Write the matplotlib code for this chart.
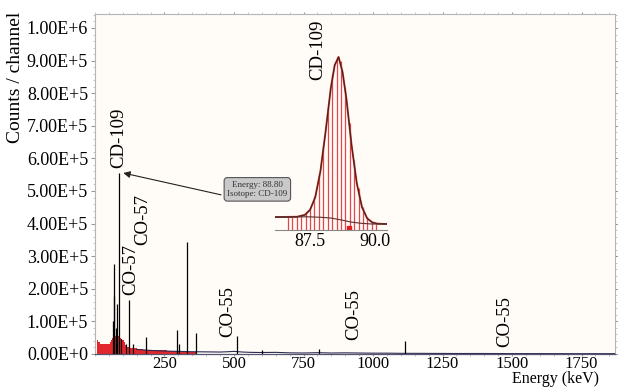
import matplotlib.pyplot as plt
from matplotlib.ticker import FixedLocator, MultipleLocator


# main spectrum: low-energy continuum (red fill)
cont_energy = [5, 9, 15, 20, 30, 40, 50, 55, 60, 65, 70, 75, 80, 85, 90, 95,
               100, 106, 112, 118, 130, 145, 160, 183, 210, 240, 279, 310,
               340, 385]
cont_counts = [0, 42000, 38000, 31000, 30000, 32000, 31000, 37000, 42000,
               50000, 58000, 54000, 60000, 56000, 50000, 46000, 42000,
               37000, 29000, 20000, 18000, 19000, 16000, 13000, 12500,
               11500, 8500, 9000, 7500, 0]

# dark baseline above the continuum
base_energy = [150, 200, 250, 300, 350, 400, 450, 480, 500, 530, 560, 600,
               650, 700, 750, 800, 850, 900, 950, 1000, 1050, 1100, 1150,
               1200, 1300, 1400, 1500, 1600, 1700, 1800, 1870]
base_counts = [14000, 11000, 9000, 8000, 7000, 6500, 6000, 7000, 8000, 6000,
               5000, 4500, 5000, 3500, 3000, 4000, 3000, 3500, 3000, 2500,
               2500, 2000, 2000, 1800, 1500, 1500, 1200, 1200, 1000, 1000,
               1000]

# black peak lines
peak_energy = [66, 68, 70, 75, 78, 88, 95, 110, 122, 136, 185, 295, 303, 330,
               362, 511, 600, 805, 1116]
peak_counts = [100000, 177000, 276000, 80000, 152000, 555000, 45000, 30000,
               165000, 30000, 52000, 75000, 30000, 342000, 65000, 55000,
               12000, 14000, 40000]

# isotope labels (energy, label bottom in counts)
label_text = ["CD-109", "CO-57", "CO-57", "CO-55", "CO-55", "CO-55"]
label_energy = [85, 128, 171, 477, 929, 1475]
label_bottom = [570000, 180000, 333000, 52000, 43000, 21000]

y_ticks = [0, 100000, 200000, 300000, 400000, 500000, 600000, 700000,
           800000, 900000, 1000000]
y_tick_labels = ["0.00E+0", "1.00E+5", "2.00E+5", "3.00E+5", "4.00E+5",
                 "5.00E+5", "6.00E+5", "7.00E+5", "8.00E+5", "9.00E+5",
                 "1.00E+6"]
x_ticks = [250, 500, 750, 1000, 1250, 1500, 1750]

# inset: CD-109 peak channels
bar_energy = [86.65, 86.82, 86.99, 87.16, 87.33, 87.50, 87.67, 87.84, 88.01,
              88.18, 88.35, 88.52, 88.69, 88.86, 89.03, 89.20, 89.37, 89.54,
              89.71, 89.88, 90.05]
bar_counts = [41000, 41500, 43000, 47000, 54000, 71000, 108000, 174000,
              270000, 389000, 496000, 550000, 538000, 455000, 340000, 222000,
              132000, 74000, 41000, 26000, 20000]

# inset: fitted curve and background
fit_energy = [86.15, 86.6, 87.0, 87.3, 87.5, 87.7, 87.9, 88.1, 88.3, 88.45,
              88.6, 88.75, 88.9, 89.1, 89.3, 89.5, 89.7, 89.9, 90.1, 90.45]
fit_counts = [41000, 41500, 42000, 48000, 64000, 104000, 187000, 313000,
              451000, 524000, 550000, 503000, 418000, 270000, 149000, 73000,
              37000, 24000, 20000, 19000]
bg_energy = [86.15, 86.8, 87.4, 87.9, 88.3, 88.7, 89.1, 89.5, 89.9, 90.45]
bg_counts = [41000, 41500, 42000, 40500, 38000, 32000, 25000, 21000, 19000,
             19000]


def main():
    plt.rcParams["font.family"] = ["Liberation Serif", "DejaVu Serif"]

    fig = plt.figure(figsize=(6.18, 3.87), dpi=100)
    fig.patch.set_facecolor("white")

    ax = fig.add_axes([0.1537, 0.0853, 0.8413, 0.8786])
    ax.set_facecolor("#fffbf7")

    ax.fill_between(cont_energy, cont_counts, step="mid",
                    color="#e3262b", linewidth=0)
    ax.plot(base_energy, base_counts, color="#2b2b55", linewidth=0.8)
    ax.vlines(peak_energy, 0, peak_counts, color="black", linewidth=0.9)

    for text, energy, bottom in zip(label_text, label_energy, label_bottom):
        ax.text(energy, bottom, text, rotation=90, ha="center",
                va="bottom", fontsize=13.5)

    ax.annotate(
        "Energy: 88.80\nIsotope: CD-109",
        xy=(92, 557000),
        xytext=(584, 505000),
        fontsize=6.5,
        ha="center",
        va="center",
        color="#333333",
        bbox=dict(boxstyle="round,pad=0.35", fc="#c9c9c9",
                  ec="#555555", lw=0.8),
        arrowprops=dict(arrowstyle="-|>", color="#222222", lw=0.8,
                        relpos=(0, 0.1), mutation_scale=10),
    )

    ax.set_xlim(0, 1870)
    ax.set_ylim(0, 1043000)
    ax.set_xticks(x_ticks)
    ax.set_yticks(y_ticks)
    ax.set_yticklabels(y_tick_labels)
    ax.xaxis.set_minor_locator(MultipleLocator(50))
    ax.yaxis.set_minor_locator(MultipleLocator(20000))
    ax.tick_params(axis="both", which="major", labelsize=13, length=3,
                   color="#999999")
    ax.tick_params(axis="x", which="major", pad=0, length=1.5,
                   labelsize=12)
    ax.tick_params(axis="y", which="major", pad=2)
    ax.tick_params(axis="both", which="minor", length=1.5,
                   color="#bbbbbb")
    ax.tick_params(top=True, right=True, which="both", direction="in")
    ax.tick_params(bottom=True, left=True, which="both", direction="out")

    for side in ["left", "top", "right"]:
        ax.spines[side].set_color("#b5b5b5")
        ax.spines[side].set_linewidth(0.8)
    ax.spines["bottom"].set_color("#555570")
    ax.spines["bottom"].set_linewidth(0.9)

    fig.text(16 / 618, 1 - 12 / 387, "Counts / channel", rotation=90,
             ha="center", va="top", fontsize=14)
    fig.text(512 / 618, 0.0, "Energy (keV)", ha="left",
             va="bottom", fontsize=11.5)

    # inset with the CD-109 peak
    inset = fig.add_axes([0.445, 0.4057, 0.181, 0.465])
    inset.patch.set_alpha(0)
    inset.vlines(bar_energy, 0, bar_counts, color="#e0474a",
                 linewidth=0.9)
    inset.plot(fit_energy, fit_counts, color="#c0392b", linewidth=1.4)
    inset.plot(fit_energy, fit_counts, color="#3a2020", linewidth=0.7)
    inset.plot(bg_energy, bg_counts, color="#5a3030", linewidth=0.8)
    inset.plot([89.0], [6000], marker="s", markersize=2.5,
               color="#e02020", linestyle="none")
    inset.text(87.8, 477000, "CD-109", rotation=90, ha="center",
               va="bottom", fontsize=13.5)

    inset.set_xlim(86.15, 90.46)
    inset.set_ylim(0, 572000)
    inset.xaxis.set_major_locator(FixedLocator([87.5, 90.0]))
    inset.set_xticklabels(["87.5", "90.0"])
    inset.set_yticks([])
    inset.tick_params(axis="x", labelsize=13, length=0, pad=2)
    for side in ["left", "top", "right"]:
        inset.spines[side].set_visible(False)
    inset.spines["bottom"].set_color("#888888")
    inset.spines["bottom"].set_linewidth(0.8)

    fig.savefig("out.png", dpi=100)
    plt.close(fig)


if __name__ == "__main__":
    main()
